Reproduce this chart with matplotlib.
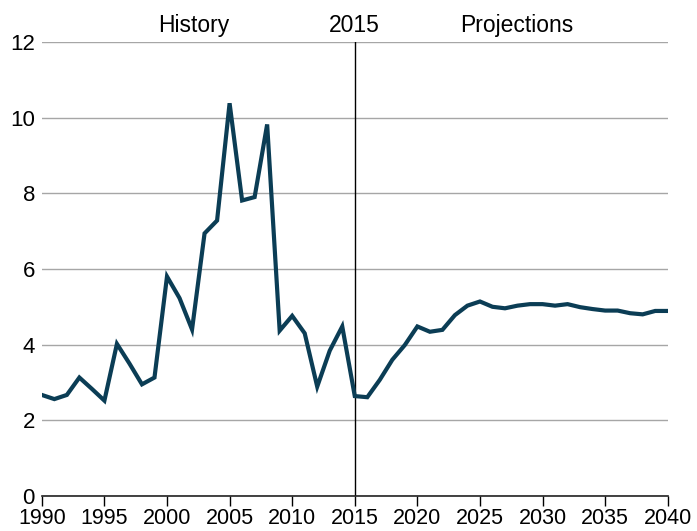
import matplotlib.pyplot as plt
import numpy as np

YEARS = list(range(1990, 2041))
VALUES = [2.67, 2.56, 2.67, 3.13, 2.83, 2.52, 4.02, 3.50, 2.95, 3.13,
          5.80, 5.23, 4.40, 6.94, 7.28, 10.38, 7.81, 7.90, 9.82, 4.37,
          4.76, 4.30, 2.89, 3.84, 4.48, 2.64, 2.61, 3.07, 3.60, 3.99,
          4.48, 4.34, 4.39, 4.78, 5.03, 5.14, 5.00, 4.96, 5.03, 5.07,
          5.07, 5.03, 5.07, 4.99, 4.94, 4.90, 4.90, 4.83, 4.80, 4.89,
          4.89]
XTICKS = list(range(1990, 2041, 5))
YTICKS = [0, 2, 4, 6, 8, 10, 12]
DIVIDER = 2015
HEADERS = [("History", 2002.1), ("2015", 2015), ("Projections", 2027.9)]

plt.rcParams['font.family'] = ['Liberation Sans', 'DejaVu Sans']

fig = plt.figure(figsize=(6.97, 5.31), dpi=100)
ax = fig.add_axes([0.060, 0.066, 0.898, 0.855])

ax.plot(YEARS, VALUES, color="#0b3d55", linewidth=3, solid_joinstyle="miter", zorder=3)
ax.axvline(DIVIDER, color="black", linewidth=1, zorder=2)

ax.set_xlim(1990, 2040)
ax.set_ylim(0, 12)
ax.set_yticks(YTICKS)
ax.set_xticks(XTICKS)
ax.yaxis.grid(True, color="#a6a6a6", linewidth=1)
ax.set_axisbelow(True)

for s in ["left", "right", "top"]:
    ax.spines[s].set_visible(False)
ax.spines["bottom"].set_color("#222222")
ax.spines["bottom"].set_linewidth(1.2)

ax.tick_params(axis="y", length=0, pad=5, labelsize=16)
ax.tick_params(axis="x", length=7, width=1, direction="out", pad=2, labelsize=15.5)
for lbl in ax.get_xticklabels():
    lbl.set_family(["Liberation Sans Narrow", "Liberation Sans"])

for txt, xpos in HEADERS:
    ax.text(xpos, 12.25, txt, ha="center", va="baseline", fontsize=16.5)

fig.savefig("out.png", dpi=100)
